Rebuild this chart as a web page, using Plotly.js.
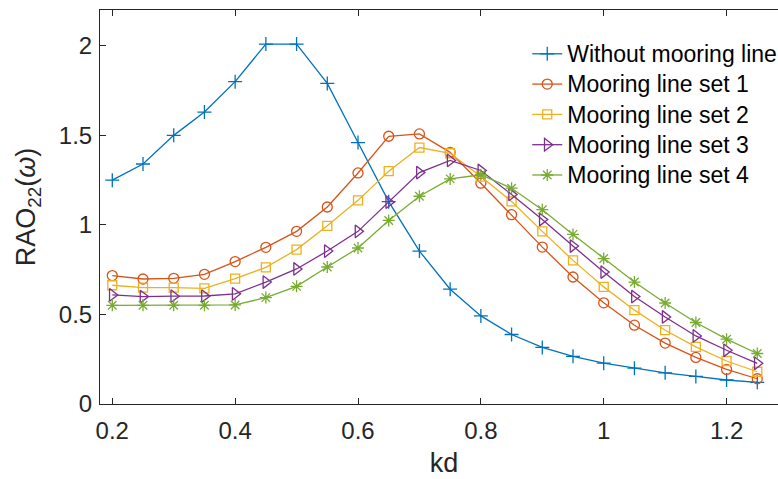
<!DOCTYPE html>
<html>
<head>
<meta charset="utf-8">
<script src="https://cdn.plot.ly/plotly-3.0.1.min.js"></script>
<style>
html, body { margin: 0; padding: 0; overflow: hidden; background: #fff; }
#chart { width: 790px; height: 479px; }
#chart .legend .legendtext { font-size: 23px !important; }
#chart .legend .scrollbox { clip-path: none !important; }
</style>
</head>
<body>
<div id="chart"></div>
<script>
const kd = [0.2, 0.25, 0.3, 0.35, 0.4, 0.45, 0.5, 0.55, 0.6, 0.65, 0.7, 0.75, 0.8, 0.85, 0.9, 0.95, 1.0, 1.05, 1.1, 1.15, 1.2, 1.25];
const withoutMooring = [1.25, 1.34, 1.50, 1.63, 1.80, 2.01, 2.01, 1.79, 1.46, 1.13, 0.854, 0.641, 0.492, 0.388, 0.316, 0.266, 0.228, 0.200, 0.174, 0.154, 0.134, 0.121];
const mooringSet1 = [0.717, 0.698, 0.702, 0.724, 0.795, 0.875, 0.964, 1.10, 1.29, 1.495, 1.508, 1.405, 1.233, 1.057, 0.876, 0.709, 0.565, 0.440, 0.340, 0.260, 0.193, 0.141];
const mooringSet2 = [0.663, 0.650, 0.650, 0.646, 0.700, 0.763, 0.862, 0.995, 1.137, 1.30, 1.432, 1.40, 1.27, 1.131, 0.964, 0.802, 0.654, 0.524, 0.412, 0.319, 0.240, 0.180];
const mooringSet3 = [0.609, 0.600, 0.602, 0.603, 0.615, 0.681, 0.754, 0.854, 0.964, 1.127, 1.292, 1.36, 1.304, 1.17, 1.03, 0.882, 0.737, 0.600, 0.486, 0.380, 0.300, 0.227];
const mooringSet4 = [0.551, 0.551, 0.551, 0.551, 0.553, 0.594, 0.657, 0.765, 0.871, 1.025, 1.16, 1.257, 1.28, 1.205, 1.085, 0.947, 0.812, 0.681, 0.564, 0.455, 0.362, 0.282];
const seriesNames = ["Without mooring line", "Mooring line set 1", "Mooring line set 2", "Mooring line set 3", "Mooring line set 4"];
const xTicks = [0.2, 0.4, 0.6, 0.8, 1, 1.2];
const yTicks = [0, 0.5, 1, 1.5, 2];

const series = [withoutMooring, mooringSet1, mooringSet2, mooringSet3, mooringSet4];
const colors = ["#0072BD", "#D95319", "#EDB120", "#7E2F8E", "#77AC30"];
const symbols = ["cross-thin-open", "circle-open", "square-open", "triangle-right-open", "asterisk-open"];
const sizes = [10, 10, 9, 11, 10];

const traces = series.map((y, i) => ({
  x: kd, y: y, name: seriesNames[i], type: "scatter", mode: "lines+markers",
  line: { color: colors[i], width: 1.3 },
  marker: { symbol: symbols[i], size: sizes[i], color: colors[i], line: { color: colors[i], width: 1.3 } }
}));

const axisCommon = {
  showgrid: false, zeroline: false, showline: true, mirror: "ticks",
  linecolor: "#262626", linewidth: 1, ticks: "inside", ticklen: 6, tickwidth: 1, tickcolor: "#262626",
  tickfont: { family: "Liberation Sans, Arial, sans-serif", size: 24, color: "#262626" }
};

const layout = {
  width: 790, height: 479,
  margin: { l: 100, r: 2, t: 10, b: 75 },
  paper_bgcolor: "#fff", plot_bgcolor: "#fff",
  font: { family: "Liberation Sans, Arial, sans-serif", color: "#262626" },
  xaxis: Object.assign({}, axisCommon, {
    range: [0.18, 1.3], tickvals: xTicks, ticktext: xTicks.map(String), ticklabelstandoff: 5,
    title: { text: "kd", font: { size: 27, color: "#262626" }, standoff: 10 }
  }),
  yaxis: Object.assign({}, axisCommon, {
    range: [0, 2.2], tickvals: yTicks, ticktext: yTicks.map(String), ticklabelstandoff: 2,
    title: { text: "RAO<sub>22</sub>(<i>ω</i>)", font: { size: 27, color: "#262626" }, standoff: 15 }
  }),
  showlegend: true,
  legend: {
    x: 0.621, y: 0.94, xanchor: "left", yanchor: "top",
    bgcolor: "rgba(0,0,0,0)", borderwidth: 0,
    font: { size: 21, color: "#000" }
  }
};

Plotly.newPlot("chart", traces, layout, { displayModeBar: false, staticPlot: true });
</script>
</body>
</html>
